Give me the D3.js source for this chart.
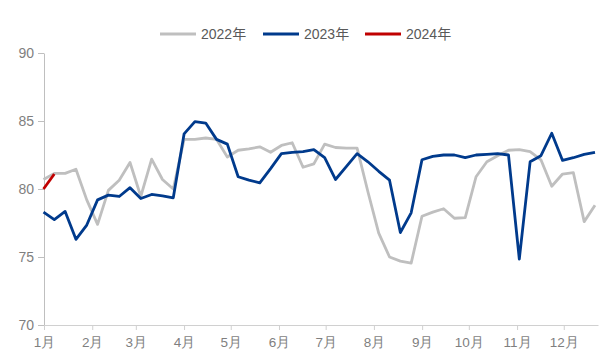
<!DOCTYPE html>
<html><head><meta charset="utf-8">
<script src="https://cdn.jsdelivr.net/npm/d3@7"></script>
<style>
html,body{margin:0;padding:0;background:#fff;}
svg{display:block;font-family:"Liberation Sans","Noto Sans CJK SC",sans-serif;}
</style></head>
<body><svg id="c" width="609" height="361"></svg>
<script>
const monthLabels = ["1月","2月","3月","4月","5月","6月","7月","8月","9月","10月","11月","12月"];
const yTicks = [70,75,80,85,90];
const seriesNames = ["2022年","2023年","2024年"];
const seriesColors = ["#bfbfbf","#003a8c","#c00000"];
const s2022 = [80.7,81.15,81.15,81.45,79.2,77.4,79.9,80.65,81.95,79.45,82.2,80.7,80.0,83.65,83.65,83.75,83.65,82.35,82.85,82.95,83.1,82.7,83.2,83.4,81.6,81.85,83.3,83.05,83.0,83.0,79.8,76.75,75.0,74.7,74.55,78.0,78.3,78.55,77.85,77.9,80.9,82.0,82.45,82.85,82.9,82.75,82.15,80.2,81.1,81.2,77.6,78.8];
const s2023 = [78.3,77.75,78.35,76.3,77.35,79.2,79.55,79.45,80.1,79.3,79.6,79.5,79.35,84.05,84.95,84.85,83.65,83.3,80.9,80.65,80.45,81.5,82.6,82.7,82.75,82.9,82.3,80.7,81.65,82.6,82.0,81.3,80.65,76.8,78.25,82.15,82.4,82.5,82.5,82.3,82.5,82.55,82.6,82.5,74.85,82.0,82.45,84.1,82.1,82.3,82.55,82.7];
const s2024 = [80.0,81.1];
const weeks = d3.range(52);

(function(){
const svg = d3.select("#c");
const pL = 44, pR = 598, pT = 53, pB = 325;

const y = d3.scaleLinear().domain([70,90]).range([pB, pT]);
const xt = d3.scaleTime().domain([new Date(2023,0,1), new Date(2023,11,23)]).range([pL, pR]);
const xw = d3.scaleLinear().domain([0,51]).range([pL-0.5, 595]);

// Y axis
const ya = svg.append("g").attr("transform",`translate(${pL},0)`)
  .call(d3.axisLeft(y).tickValues(yTicks).tickSize(6).tickPadding(4).tickSizeOuter(0));
ya.select(".domain").attr("stroke","#bfbfbf");
ya.selectAll(".tick line").attr("stroke","#bfbfbf");
ya.selectAll(".tick text").attr("fill","#7f7f7f").style("font-size","14px");

// X axis
const monthDates = d3.range(12).map(m=>new Date(2023,m,1));
const xa = svg.append("g").attr("transform",`translate(0,${pB})`)
  .call(d3.axisBottom(xt).tickValues(monthDates).tickSize(5).tickPadding(7)
    .tickFormat((d,i)=>monthLabels[i]).tickSizeOuter(0));
xa.select(".domain").attr("stroke","#d0d0d0");
xa.selectAll(".tick line").attr("stroke","#d0d0d0");
xa.selectAll(".tick text").attr("fill","#7f7f7f").style("font-size","13.5px");

// Lines
const line = d3.line().x((d,i)=>xw(weeks[i])).y(d=>y(d));
[s2022,s2023,s2024].forEach((s,k)=>{
  svg.append("path").datum(s).attr("fill","none").attr("stroke",seriesColors[k])
    .attr("stroke-width",2.8).attr("stroke-linejoin","round").attr("d",line);
});

// Legend
const legX = [160,263,365];
seriesNames.forEach((n,k)=>{
  const g = svg.append("g").attr("transform",`translate(${legX[k]},34)`);
  g.append("line").attr("x1",0).attr("x2",36).attr("y1",0).attr("y2",0)
    .attr("stroke",seriesColors[k]).attr("stroke-width",3);
  g.append("text").attr("x",41).attr("y",5).attr("fill","#595959")
    .style("font-size","14px").text(n);
});
})();
</script></body></html>
